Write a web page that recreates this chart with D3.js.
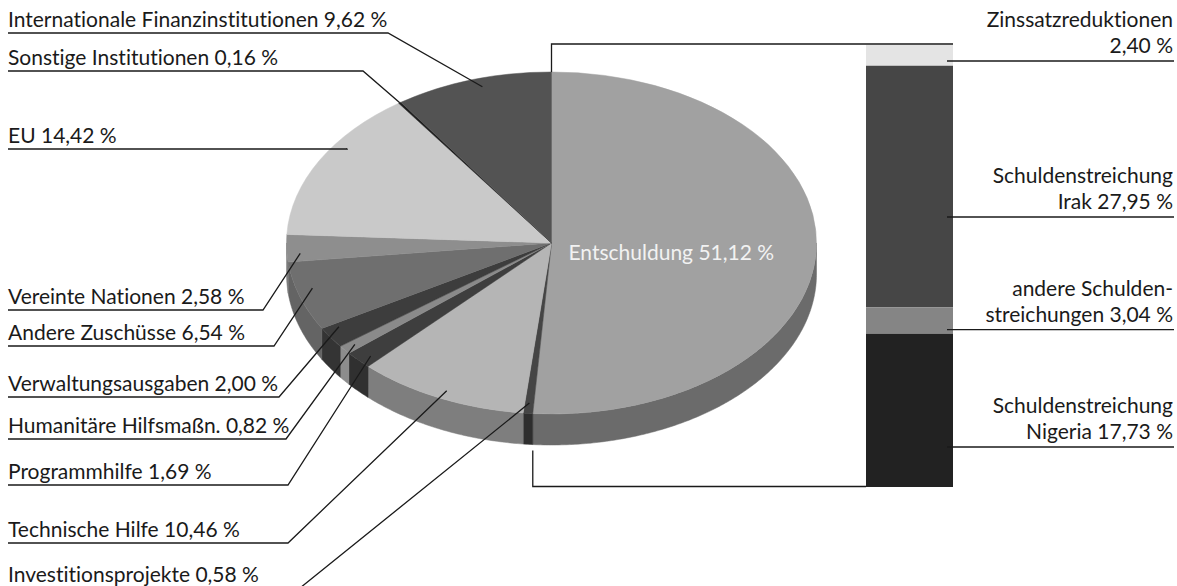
<!DOCTYPE html>
<html lang="de">
<head>
    <meta charset="utf-8" />
    <title>Entschuldung und Zuschüsse</title>
    <script src="https://d3js.org/d3.v7.min.js"></script>
    <style>
        body {
            margin: 0;
            padding: 0;
            background: #ffffff;
        }
        #chart {
            display: block;
            font-family: Lato, "Open Sans", sans-serif;
            font-variant-ligatures: none;
        }
    </style>
</head>
<body>
<svg id="chart"></svg>
<script>
    var w = 1177;
    var h = 586;

    // Pie slices, clockwise from 12 o'clock
    var categories = ["Entschuldung", "Investitionsprojekte", "Technische Hilfe", "Programmhilfe",
        "Humanitäre Hilfsmaßn.", "Verwaltungsausgaben", "Andere Zuschüsse", "Vereinte Nationen",
        "EU", "Sonstige Institutionen", "Internationale Finanzinstitutionen"];
    var shares = [51.12, 0.58, 10.46, 1.69, 0.82, 2.00, 6.54, 2.58, 14.42, 0.16, 9.62];

    // Breakdown of "Entschuldung" shown in the bar
    var debtLine1 = ["Zinssatzreduktionen", "Schuldenstreichung", "andere Schulden-", "Schuldenstreichung"];
    var debtLine2 = ["", "Irak", "streichungen", "Nigeria"];
    var debtShares = [2.40, 27.95, 3.04, 17.73];

    // Grey tones
    var topColors = ["#a1a1a1", "#454545", "#b5b5b5", "#3e3e3e", "#8a8a8a", "#3d3d3d",
        "#6f6f6f", "#8e8e8e", "#c9c9c9", "#1e1e1e", "#535353"];
    var sideColors = ["#6b6b6b", "#2e2e2e", "#7e7e7e", "#303030", "#8c8c8c", "#343434",
        "#646464", "#7c7c7c", "#9a9a9a", "#1e1e1e", "#3f3f3f"];
    var barColors = ["#e4e4e4", "#464646", "#858585", "#222222"];

    // Left label layout: underline y, end of underline, where in the slice the line points
    var labelOrder = [10, 9, 8, 7, 6, 5, 4, 3, 2, 1];
    var labelLineY = [33, 71, 149, 310, 346, 397, 439, 485, 543, 588];
    var labelElbowX = [388, 363, 347, 263, 274, 279, 286, 288, 288, 300];
    var anchorT = [0.54, 0.5, 0.63, 0.3, 0.58, 0.8, 0.5, 0.35, 0.49, 0.5];
    var anchorR = [0.95, 1.0, 0.95, 0.95, 0.94, 0.94, 0.95, 0.95, 0.95, 0.94];
    // Right label layout: wished leader y
    var debtLineY = [61, 217, 349, 447];

    var cx = 551.5, cy = 243, rx = 265, ry = 171, depth = 31;
    var barLeft = 866, barRight = 953, barTop = 45, barBottom = 487;
    var fontSize = "21px";

    var fmt = d3.formatLocale({decimal: ",", thousands: ".", grouping: [3], currency: ["", " €"]})
        .format(".2f");

    var svg = d3.select("#chart")
        .attr("width", w)
        .attr("height", h);

    var pie = d3.pie()
        .sort(null)
        .value(function(d) { return d; });
    var slices = pie(shares);

    function rim(a, r, dy) {
        return [cx + r * rx * Math.sin(a), cy - r * ry * Math.cos(a) + (dy || 0)];
    }

    // Side walls (only the front half is visible)
    var line = d3.line();
    svg.append("g")
        .selectAll("path")
        .data(slices)
        .enter().append("path")
        .attr("d", function(d) {
            var a0 = Math.max(d.startAngle, Math.PI / 2);
            var a1 = Math.min(d.endAngle, 3 * Math.PI / 2);
            if (a1 <= a0) return null;
            var n = Math.max(2, Math.ceil((a1 - a0) / 0.01));
            var top = d3.range(n + 1).map(function(i) { return rim(a0 + (a1 - a0) * i / n, 1); });
            var bottom = top.map(function(p) { return [p[0], p[1] + depth]; }).reverse();
            return line(top.concat(bottom)) + "Z";
        })
        .attr("fill", function(d, i) { return sideColors[i]; })
        .attr("stroke", function(d, i) { return sideColors[i]; })
        .attr("stroke-width", 0.5);

    // Top faces: a circle pie squeezed into an ellipse
    var arc = d3.arc()
        .innerRadius(0)
        .outerRadius(rx);
    svg.append("g")
        .attr("transform", "translate(" + cx + "," + cy + ") scale(1," + (ry / rx) + ")")
        .selectAll("path")
        .data(slices)
        .enter().append("path")
        .attr("d", arc)
        .attr("fill", function(d, i) { return topColors[i]; })
        .attr("stroke", function(d, i) { return topColors[i]; })
        .attr("stroke-width", 0.6);

    svg.append("text")
        .attr("x", cx + 17)
        .attr("y", cy + 17)
        .attr("fill", "#f2f2f2")
        .attr("font-size", fontSize)
        .text(categories[0] + " " + fmt(shares[0]) + " %");

    // Left labels with leader lines
    var leaders = svg.append("g");
    labelOrder.forEach(function(k, j) {
        var s = slices[k];
        var a = s.startAngle + anchorT[j] * (s.endAngle - s.startAngle);
        var p = rim(a, anchorR[j]);
        var y = labelLineY[j];
        leaders.append("path")
            .attr("d", line([[8, y], [labelElbowX[j], y], p]))
            .attr("fill", "none")
            .attr("stroke", "#1a1a1a")
            .attr("stroke-width", 1.3);
        leaders.append("text")
            .attr("x", 8)
            .attr("y", y - 6)
            .attr("fill", "#1a1a1a")
            .attr("font-size", fontSize)
            .text(categories[k] + " " + fmt(shares[k]) + " %");
    });

    // Stacked bar for the breakdown of Entschuldung
    var yScale = d3.scaleLinear()
        .domain([0, d3.sum(debtShares)])
        .range([barTop, barBottom]);
    var cum = d3.cumsum(debtShares);
    var segs = debtShares.map(function(v, i) {
        return {y0: yScale(cum[i] - v), y1: yScale(cum[i])};
    });

    svg.append("g")
        .selectAll("rect")
        .data(segs)
        .enter().append("rect")
        .attr("x", barLeft)
        .attr("y", function(d) { return d.y0; })
        .attr("width", barRight - barLeft)
        .attr("height", function(d) { return d.y1 - d.y0; })
        .attr("fill", function(d, i) { return barColors[i]; });

    // Bracket joining the Entschuldung slice and the bar
    var sEnd = slices[0].endAngle;
    var pTop = rim(0, 1);
    var pBot = rim(sEnd, 1, depth + 6);
    svg.append("path")
        .attr("d", line([pTop, [pTop[0], barTop - 1], [barRight, barTop - 1]]))
        .attr("fill", "none")
        .attr("stroke", "#1a1a1a")
        .attr("stroke-width", 1.3);
    svg.append("path")
        .attr("d", line([pBot, [pBot[0], barBottom - 0.5], [barLeft, barBottom - 0.5]]))
        .attr("fill", "none")
        .attr("stroke", "#1a1a1a")
        .attr("stroke-width", 1.3);

    // Right labels
    var right = svg.append("g");
    segs.forEach(function(d, i) {
        var y = Math.max(d.y0 + 4, Math.min(d.y1 - 4, debtLineY[i]));
        right.append("line")
            .attr("x1", barRight - 6)
            .attr("x2", 1174)
            .attr("y1", y)
            .attr("y2", y)
            .attr("stroke", "#1a1a1a")
            .attr("stroke-width", 1.3);
        var t = right.append("text")
            .attr("text-anchor", "end")
            .attr("fill", "#1a1a1a")
            .attr("font-size", fontSize);
        t.append("tspan")
            .attr("x", 1173)
            .attr("y", y - 34)
            .text(debtLine1[i]);
        t.append("tspan")
            .attr("x", 1173)
            .attr("y", y - 8)
            .text((debtLine2[i] ? debtLine2[i] + " " : "") + fmt(debtShares[i]) + " %");
    });
</script>
</body>
</html>
